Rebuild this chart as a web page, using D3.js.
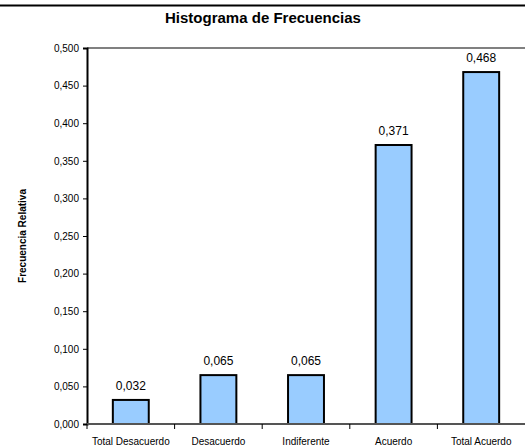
<!DOCTYPE html>
<html>
<head>
<meta charset="utf-8">
<script src="https://cdn.jsdelivr.net/npm/d3@7"></script>
<style>
  html, body { margin: 0; padding: 0; background: #fff; }
  svg { display: block; font-family: Arial, "Liberation Sans", sans-serif; }
</style>
</head>
<body>
<svg id="chart" width="525" height="448"></svg>
<script>
// Relative frequency per response category
const categories = ["Total Desacuerdo", "Desacuerdo", "Indiferente", "Acuerdo", "Total Acuerdo"];
const frequencies = [0.032, 0.065, 0.065, 0.371, 0.468];
const yTicks = [0, 0.05, 0.1, 0.15, 0.2, 0.25, 0.3, 0.35, 0.4, 0.45, 0.5];

const svg = d3.select("#chart");
const margin = { top: 48, right: 0, bottom: 24, left: 87 };
const width = 525, height = 448;

const fmt = v => d3.format(".3f")(v).replace(".", ",");

const x = d3.scaleBand()
  .domain(categories)
  .range([margin.left, width - margin.right])
  .paddingInner(0.59)
  .paddingOuter(0.295);

const y = d3.scaleLinear()
  .domain([0, 0.5])
  .range([height - margin.bottom, margin.top]);

// page border line at the top
svg.append("line")
  .attr("x1", 0).attr("x2", width)
  .attr("y1", 5.5).attr("y2", 5.5)
  .attr("stroke", "#000").attr("stroke-width", 2);

// plot area top border
svg.append("line")
  .attr("x1", margin.left).attr("x2", width)
  .attr("y1", y(0.5)).attr("y2", y(0.5))
  .attr("stroke", "#808080").attr("stroke-width", 2);

// title
svg.append("text")
  .attr("x", 263).attr("y", 23)
  .attr("text-anchor", "middle")
  .attr("font-size", "15px")
  .attr("font-weight", "bold")
  .text("Histograma de Frecuencias");

// y axis title
svg.append("text")
  .attr("transform", "translate(26," + ((margin.top + height - margin.bottom) / 2) + ") rotate(-90)")
  .attr("text-anchor", "middle")
  .attr("font-size", "10px")
  .attr("font-weight", "bold")
  .text("Frecuencia Relativa");

// bars
svg.append("g").selectAll("rect")
  .data(frequencies)
  .join("rect")
  .attr("x", (d, i) => x(categories[i]))
  .attr("y", d => y(d))
  .attr("width", x.bandwidth())
  .attr("height", d => y(0) - y(d))
  .attr("fill", "#99CCFF")
  .attr("stroke", "#000")
  .attr("stroke-width", 2);

// value labels
svg.append("g").selectAll("text")
  .data(frequencies)
  .join("text")
  .attr("x", (d, i) => x(categories[i]) + x.bandwidth() / 2)
  .attr("y", d => y(d) - 10)
  .attr("text-anchor", "middle")
  .attr("font-size", "12px")
  .text(d => fmt(d));

// y axis
const yAxis = svg.append("g")
  .attr("transform", "translate(" + margin.left + ",0)")
  .call(d3.axisLeft(y).tickValues(yTicks).tickFormat(fmt).tickSize(4).tickPadding(4));
yAxis.select(".domain").attr("stroke", "#000").attr("stroke-width", 2);
yAxis.selectAll(".tick line").attr("stroke", "#000");
yAxis.selectAll(".tick text").attr("font-size", "10px").attr("font-family", "Arial, 'Liberation Sans', sans-serif").attr("fill", "#000");

// x axis with category boundary ticks
const xAxis = svg.append("g")
  .attr("transform", "translate(0," + y(0) + ")");
xAxis.append("line")
  .attr("x1", margin.left).attr("x2", width)
  .attr("y1", 0).attr("y2", 0)
  .attr("stroke", "#555").attr("stroke-width", 2);
const step = x.step();
const bounds = d3.range(categories.length).map(i => margin.left + i * step);
xAxis.selectAll("line.b")
  .data(bounds)
  .join("line")
  .attr("class", "b")
  .attr("x1", d => d).attr("x2", d => d)
  .attr("y1", 0).attr("y2", 5)
  .attr("stroke", "#000");
xAxis.selectAll("text")
  .data(categories)
  .join("text")
  .attr("x", d => x(d) + x.bandwidth() / 2)
  .attr("y", 20.5)
  .attr("text-anchor", "middle")
  .attr("font-size", "10px")
  .text(d => d);
</script>
</body>
</html>
